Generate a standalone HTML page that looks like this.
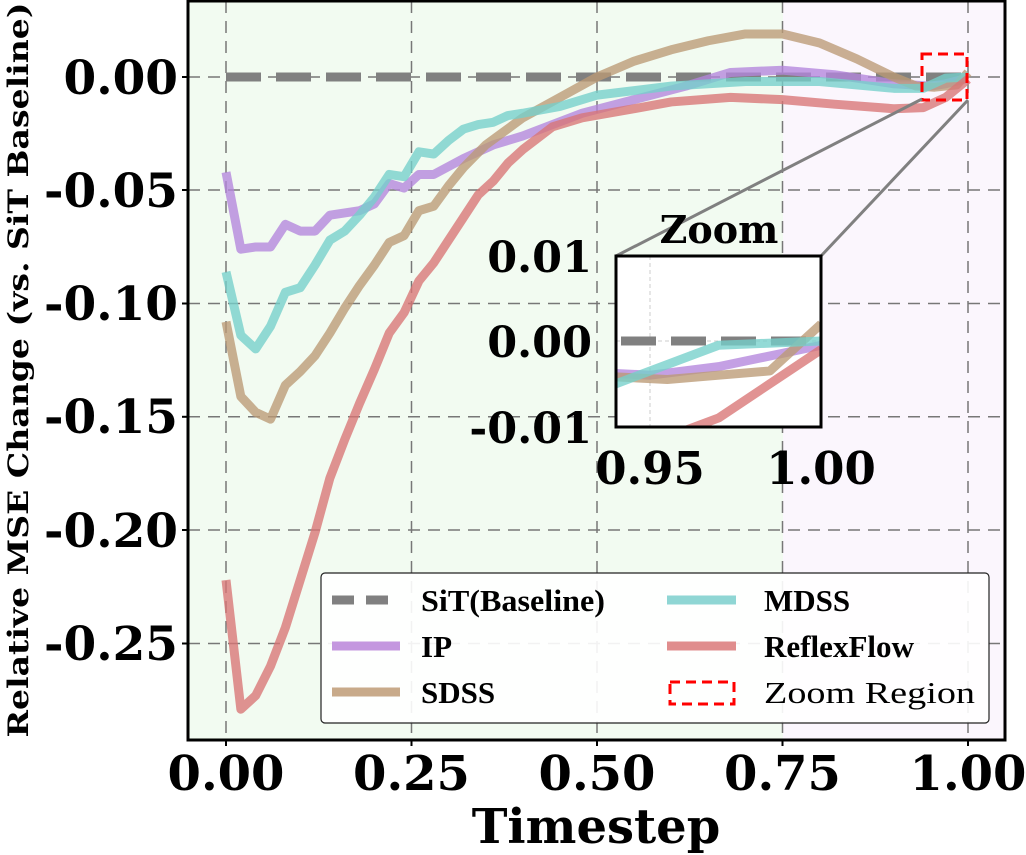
<!DOCTYPE html>
<html><head><meta charset="utf-8"><style>
html,body{margin:0;padding:0;background:#fff;overflow:hidden;width:1026px;height:855px}
svg{display:block}
.t{font-family:"DejaVu Serif","Liberation Serif",serif;font-weight:bold;fill:#000}
.l{font-family:"Liberation Serif",serif;font-weight:bold;font-size:31px;fill:#000}
</style></head><body>
<svg width="1026" height="855" viewBox="0 0 1026 855" xmlns="http://www.w3.org/2000/svg" overflow="hidden">
<defs>
<clipPath id="main"><rect x="188" y="1" width="817" height="739"/></clipPath>
<clipPath id="ins"><rect x="616" y="256" width="205" height="171"/></clipPath>
</defs>
<rect x="188" y="1" width="595" height="739" fill="#f2fbf1"/>
<rect x="783" y="1" width="222" height="739" fill="#fbf6fd"/>
<g stroke="#777" stroke-width="1.5" stroke-dasharray="12,8" fill="none">
<line x1="226" y1="1" x2="226" y2="740"/><line x1="411.5" y1="1" x2="411.5" y2="740"/>
<line x1="597" y1="1" x2="597" y2="740"/><line x1="782.5" y1="1" x2="782.5" y2="740"/>
<line x1="968" y1="1" x2="968" y2="740"/>
<line x1="188" y1="77" x2="1005" y2="77"/><line x1="188" y1="190" x2="1005" y2="190"/>
<line x1="188" y1="303.5" x2="1005" y2="303.5"/><line x1="188" y1="416.8" x2="1005" y2="416.8"/>
<line x1="188" y1="530" x2="1005" y2="530"/><line x1="188" y1="643.5" x2="1005" y2="643.5"/>
</g>
<g clip-path="url(#main)">
<line x1="226" y1="77" x2="968" y2="77" stroke="#808080" stroke-width="9" stroke-dasharray="35,15"/>
<g transform="translate(226,77) scale(742,-2266)" fill="none" stroke-linejoin="round" stroke-opacity="0.78">
<polyline id="ip" vector-effect="non-scaling-stroke" stroke="#b485dc" stroke-width="9" points="0,-0.042 0.02,-0.076 0.04,-0.075 0.06,-0.075 0.08,-0.065 0.1,-0.068 0.12,-0.068 0.14,-0.061 0.18,-0.059 0.2,-0.056 0.22,-0.047 0.24,-0.049 0.26,-0.043 0.28,-0.043 0.32,-0.036 0.36,-0.030 0.4,-0.026 0.44,-0.021 0.48,-0.016 0.55,-0.010 0.62,-0.004 0.68,0.002 0.75,0.003 0.82,0.001 0.9,-0.003 0.95,-0.004 0.97,-0.003 1.0,-0.0005"/>
<polyline id="sd" vector-effect="non-scaling-stroke" stroke="#bb9a75" stroke-width="9" points="0,-0.108 0.02,-0.141 0.04,-0.148 0.06,-0.151 0.08,-0.136 0.1,-0.130 0.12,-0.123 0.14,-0.113 0.16,-0.102 0.18,-0.092 0.2,-0.083 0.22,-0.073 0.24,-0.070 0.26,-0.059 0.28,-0.057 0.3,-0.048 0.32,-0.040 0.35,-0.030 0.4,-0.018 0.45,-0.009 0.5,0.000 0.55,0.007 0.6,0.012 0.65,0.016 0.7,0.019 0.75,0.019 0.8,0.015 0.85,0.008 0.9,0.0 0.93,-0.004 0.955,-0.0045 0.985,-0.0035 1.0,0.002"/>
<polyline id="md" vector-effect="non-scaling-stroke" stroke="#74cfca" stroke-width="9" points="0,-0.086 0.02,-0.114 0.04,-0.120 0.06,-0.110 0.08,-0.095 0.1,-0.093 0.12,-0.083 0.14,-0.072 0.16,-0.068 0.18,-0.061 0.2,-0.053 0.22,-0.043 0.24,-0.044 0.26,-0.033 0.28,-0.034 0.3,-0.028 0.32,-0.023 0.34,-0.021 0.36,-0.020 0.38,-0.017 0.4,-0.016 0.45,-0.013 0.5,-0.008 0.6,-0.004 0.7,-0.002 0.8,-0.002 0.9,-0.005 0.94,-0.005 0.97,-0.0005 1.0,0"/>
<polyline id="rf" vector-effect="non-scaling-stroke" stroke="#d97575" stroke-width="9" points="0,-0.222 0.02,-0.279 0.04,-0.273 0.06,-0.260 0.08,-0.243 0.1,-0.222 0.12,-0.201 0.14,-0.177 0.16,-0.160 0.18,-0.144 0.2,-0.129 0.22,-0.113 0.24,-0.104 0.26,-0.090 0.28,-0.082 0.3,-0.072 0.32,-0.062 0.34,-0.052 0.36,-0.046 0.38,-0.038 0.4,-0.032 0.42,-0.027 0.44,-0.022 0.48,-0.018 0.55,-0.014 0.6,-0.011 0.68,-0.009 0.75,-0.010 0.82,-0.012 0.9,-0.014 0.94,-0.0135 0.97,-0.009 1.0,-0.001"/>
</g>
</g>
<rect x="922" y="54" width="45" height="46" fill="none" stroke="#ff0000" stroke-width="3" stroke-dasharray="10,6"/>
<line x1="922" y1="99" x2="616" y2="256" stroke="#808080" stroke-width="3"/>
<line x1="968" y1="100" x2="821" y2="256" stroke="#808080" stroke-width="3"/>
<rect x="616" y="256" width="205" height="171" fill="#fff"/>
<g stroke="#ccc" stroke-width="1" stroke-dasharray="4,3"><line x1="650" y1="256" x2="650" y2="427"/><line x1="616" y1="341" x2="821" y2="341"/></g>
<g clip-path="url(#ins)">
<line x1="616" y1="341" x2="821" y2="341" stroke="#808080" stroke-width="9" stroke-dasharray="35,15" stroke-dashoffset="-5"/>
<g transform="translate(616,341) scale(3420,-8550) translate(-0.94,0)" fill="none" stroke-opacity="0.78" stroke-linejoin="round">
<use href="#ip"/><use href="#sd"/><use href="#md"/><use href="#rf"/>
</g>
</g>
<rect x="616" y="256" width="205" height="171" fill="none" stroke="#000" stroke-width="3"/>
<text class="t" x="719" y="243" font-size="38" text-anchor="middle">Zoom</text>
<g class="t" font-size="43" text-anchor="end">
<text x="592" y="272">0.01</text><text x="592" y="357">0.00</text><text x="592" y="443">-0.01</text>
</g>
<g class="t" font-size="45" text-anchor="middle">
<text x="650" y="484">0.95</text><text x="821" y="484">1.00</text>
</g>
<rect x="188" y="1" width="817" height="739" fill="none" stroke="#000" stroke-width="3"/>
<g stroke="#000" stroke-width="2">
<line x1="182" y1="77" x2="188" y2="77"/><line x1="182" y1="190" x2="188" y2="190"/><line x1="182" y1="303.5" x2="188" y2="303.5"/><line x1="182" y1="416.8" x2="188" y2="416.8"/><line x1="182" y1="530" x2="188" y2="530"/><line x1="182" y1="643.5" x2="188" y2="643.5"/>
<line x1="226" y1="740" x2="226" y2="746"/><line x1="411.5" y1="740" x2="411.5" y2="746"/><line x1="597" y1="740" x2="597" y2="746"/><line x1="782.5" y1="740" x2="782.5" y2="746"/><line x1="968" y1="740" x2="968" y2="746"/>
</g>
<g class="t" font-size="47" text-anchor="end">
<text x="178" y="94">0.00</text><text x="178" y="207">-0.05</text><text x="178" y="320">-0.10</text><text x="178" y="433">-0.15</text><text x="178" y="547">-0.20</text><text x="178" y="660">-0.25</text>
</g>
<g class="t" font-size="48" text-anchor="middle">
<text x="226" y="790">0.00</text><text x="411.5" y="790">0.25</text><text x="597" y="790">0.50</text><text x="782.5" y="790">0.75</text><text x="968" y="790">1.00</text>
</g>
<text class="t" x="596" y="843" font-size="48" text-anchor="middle">Timestep</text>
<text class="t" font-size="28" text-anchor="middle" textLength="735" lengthAdjust="spacingAndGlyphs" transform="translate(28,370) rotate(-90)">Relative MSE Change (vs. SiT Baseline)</text>
<rect x="321" y="573" width="668" height="150" rx="4" fill="#fff" fill-opacity="0.9" stroke="#222" stroke-width="1.2"/>
<line x1="332" y1="600" x2="400" y2="600" stroke="#808080" stroke-width="9" stroke-dasharray="22,12"/>
<line x1="332" y1="646" x2="400" y2="646" stroke="#c497df" stroke-width="9"/>
<line x1="332" y1="692" x2="400" y2="692" stroke="#c8aa8a" stroke-width="9"/>
<line x1="667" y1="600" x2="736" y2="600" stroke="#8fd6d4" stroke-width="9"/>
<line x1="667" y1="646" x2="736" y2="646" stroke="#e08d8d" stroke-width="9"/>
<rect x="670" y="682" width="64" height="22" fill="none" stroke="#ff0000" stroke-width="3" stroke-dasharray="10,6"/>
<g class="l">
<text x="421" y="611" textLength="184" lengthAdjust="spacingAndGlyphs">SiT(Baseline)</text>
<text x="421" y="657">IP</text>
<text x="421" y="703">SDSS</text>
<text x="764" y="611">MDSS</text>
<text x="764" y="657" textLength="150" lengthAdjust="spacingAndGlyphs">ReflexFlow</text>
<text x="764" y="703" font-weight="normal" textLength="211" lengthAdjust="spacingAndGlyphs">Zoom Region</text>
</g>
</svg>
</body></html>
